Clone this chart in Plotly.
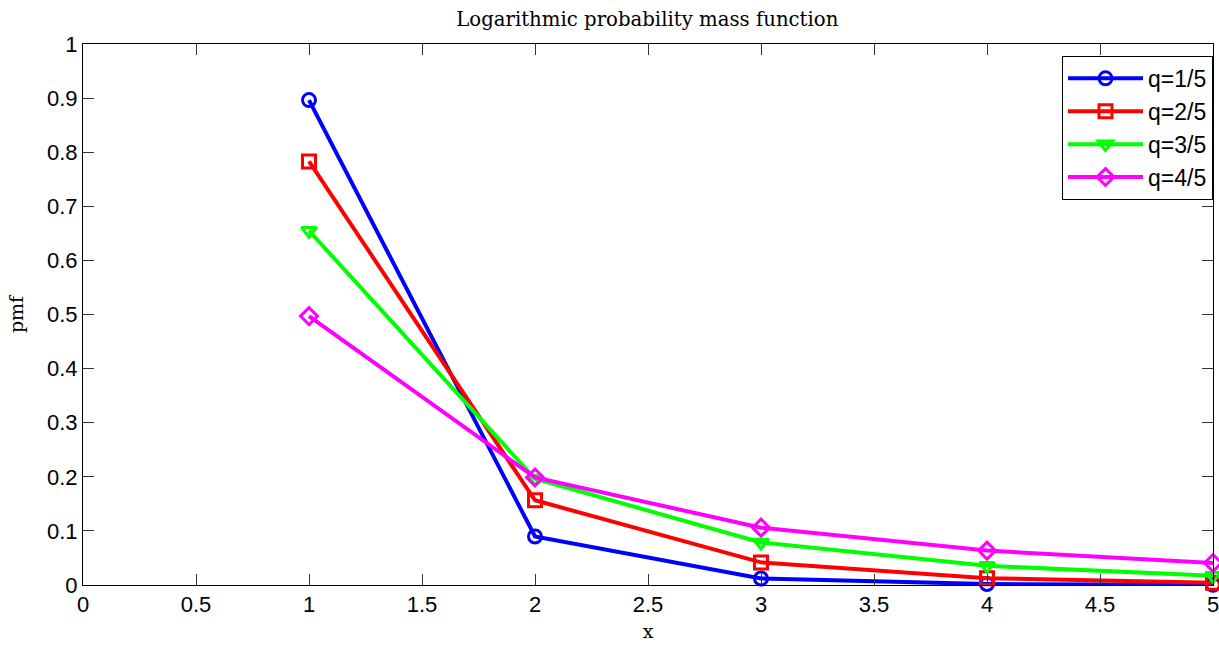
import plotly.graph_objects as go

x_vals = [1, 2, 3, 4, 5]
q1 = [0.8963, 0.0896, 0.0120, 0.0018, 0.0003]
q2 = [0.7830, 0.1566, 0.0418, 0.0125, 0.0040]
q3 = [0.6548, 0.1964, 0.0786, 0.0354, 0.0170]
q4 = [0.4971, 0.1988, 0.1060, 0.0636, 0.0407]
names = ["q=1/5", "q=2/5", "q=3/5", "q=4/5"]
colors = ["#0000ff", "#ff0000", "#00ff00", "#ff00ff"]
symbols = ["circle-open", "square-open", "triangle-down-open", "diamond-open"]
series = [q1, q2, q3, q4]

fig = go.Figure()
for y, n, c, s in zip(series, names, colors, symbols):
    fig.add_trace(go.Scatter(
        x=x_vals, y=y, name=n, mode="lines+markers",
        line=dict(color=c, width=4),
        marker=dict(symbol=s, size=13, color=c, line=dict(color=c, width=3)),
        cliponaxis=False,
    ))

serif = "DejaVu Serif, Liberation Serif, serif"
sans = "Liberation Sans, Arial, sans-serif"

axis_common = dict(
    showgrid=False, zeroline=False, showline=True, linecolor="black", linewidth=1,
    mirror="ticks", ticks="inside", ticklen=11, tickcolor="#333333",
    tickfont=dict(family=sans, size=22, color="black"),
    ticklabeloverflow="allow", automargin=False,
)

fig.update_layout(
    width=1219, height=645,
    margin=dict(l=83, r=6, t=44, b=60),
    paper_bgcolor="white", plot_bgcolor="white",
    title=dict(text="Logarithmic probability mass function", x=0.531, xanchor="center",
               y=0.9705, yanchor="middle",
               font=dict(family=serif, size=19.7, color="black")),
    xaxis=dict(range=[0, 5], dtick=0.5, title=dict(text="x", standoff=8,
               font=dict(family=serif, size=19, color="black")), **axis_common),
    yaxis=dict(range=[0, 1], dtick=0.1, title=dict(text="pmf", standoff=18,
               font=dict(family=serif, size=19, color="black")), **axis_common),
    legend=dict(x=1.0, xanchor="right", y=0.978, yanchor="top",
                bgcolor="white", bordercolor="black", borderwidth=1,
                font=dict(family=sans, size=23, color="black"),
                itemwidth=75, tracegroupgap=0),
    showlegend=True,
)

fig.write_html("out.html")
